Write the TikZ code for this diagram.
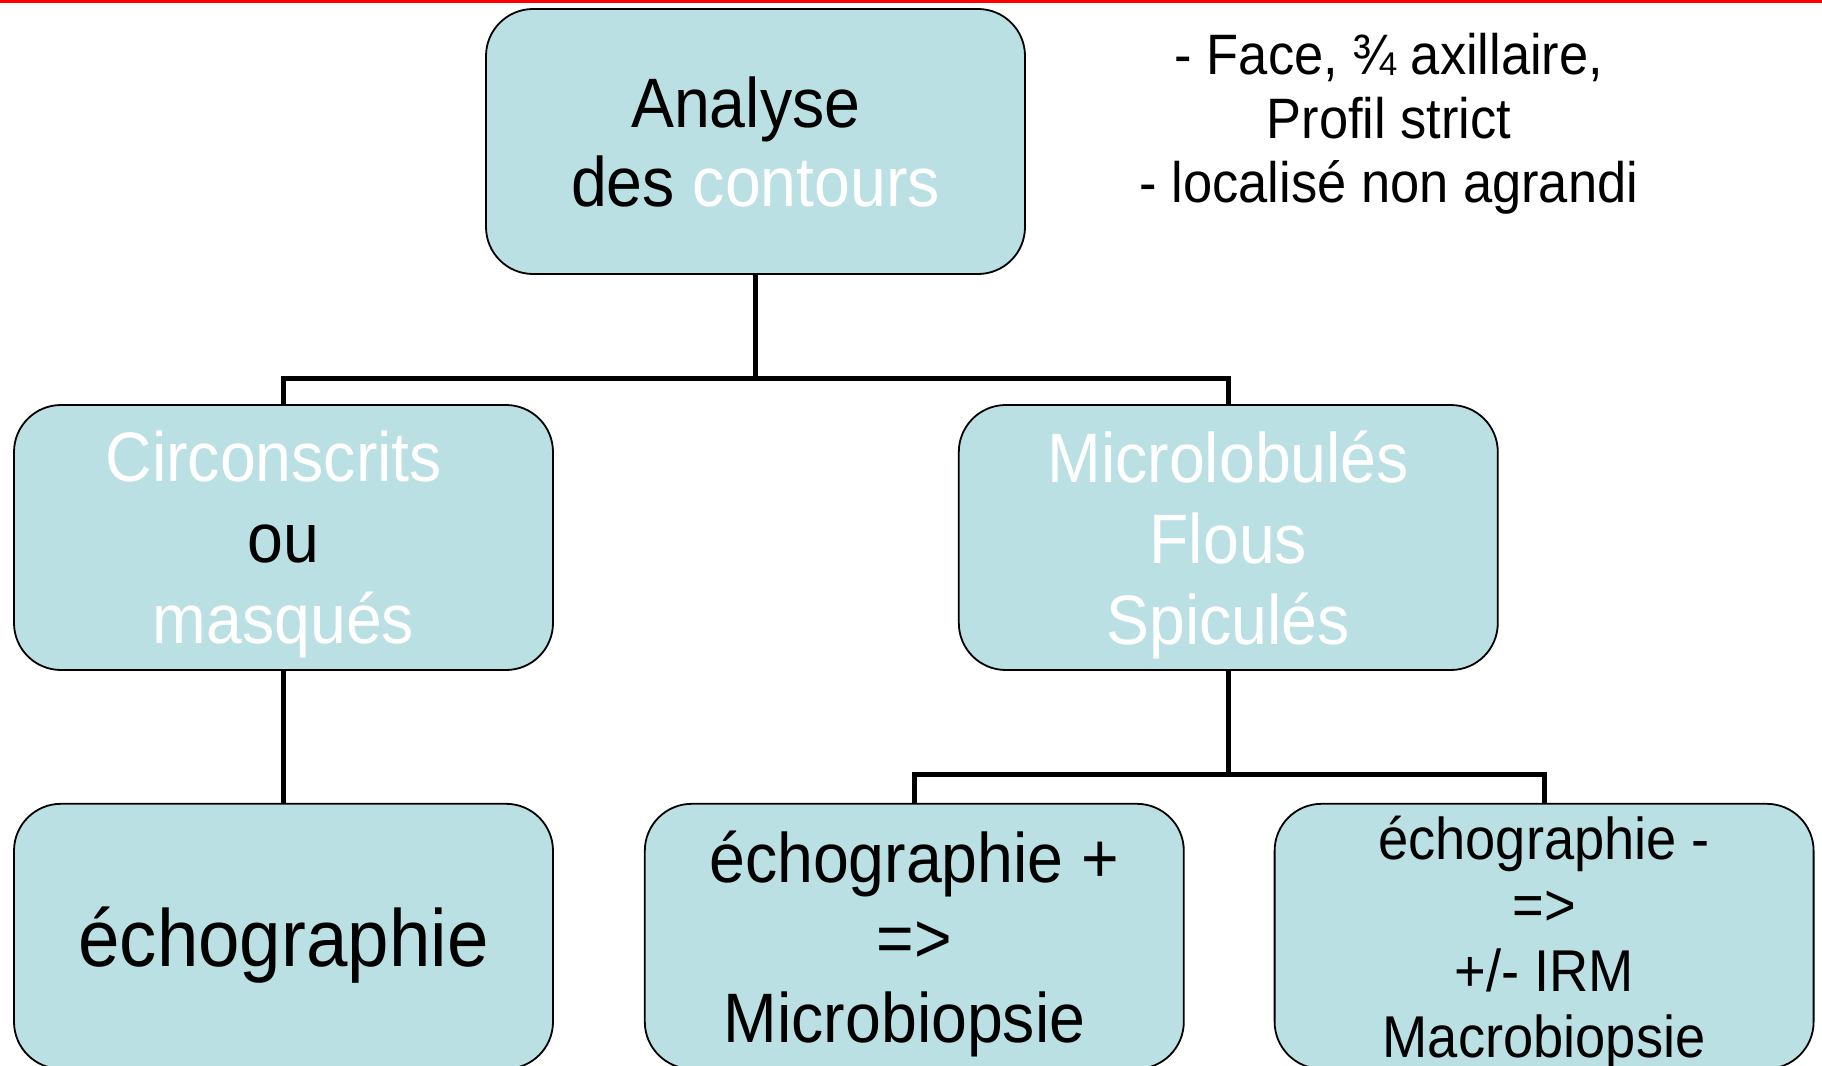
\documentclass[tikz,border=0pt]{standalone}
\usepackage{fontspec}
\setmainfont{Liberation Sans}[FakeStretch=0.92]
\usetikzlibrary{calc, positioning}
\definecolor{boxfill}{HTML}{BBE0E3}
\tikzset{
  every picture/.style={x=1pt, y=-1pt},
  box/.style={draw=black, fill=boxfill, line width=1.8pt, rounded corners=47pt,
              minimum width=539pt, minimum height=265pt, align=center, inner sep=0pt,
              font=\fontsize{70}{81}\selectfont, text depth=-11pt},
  link/.style={line width=5pt},
  note/.style={align=center, inner sep=0pt, font=\fontsize{57}{64}\selectfont},
}
\newcommand\wt[1]{\textcolor{white}{#1}}
\newcommand\tsp{\kern.278em}
\begin{document}
\begin{tikzpicture}
  \useasboundingbox (0,0) rectangle (1822,1065);
  \clip (0,0) rectangle (1822,1065);
  \draw[red, line width=3pt] (0,1.5) -- (1822,1.5);
  % boxes
  \node[box, font=\fontsize{70}{79}\selectfont, text depth=-4pt] (ana) at (755.5,141.5)
    {Analyse\tsp\\des \wt{contours}};
  \node[box] (circ) at (283.5,537.5) {\wt{Circonscrits\tsp}\\ou\\\wt{masqués}};
  \node[box, right=404pt of circ] (micro) {\wt{Microlobulés}\\\wt{Flous}\\\wt{Spiculés}};
  \node[box, below=132pt of circ, font=\fontsize{81}{90}\selectfont, text depth=-6pt] (echo)
    {échographie};
  \node[box, right=90pt of echo, font=\fontsize{70}{80}\selectfont, text depth=-3pt] (plus)
    {échographie +\\=>\\Microbiopsie\tsp};
  \node[box, right=89pt of plus, font=\fontsize{59}{66}\selectfont, text depth=0pt] (moins)
    {échographie -\\=>\\+/- IRM\\Macrobiopsie};
  \node[note] (vues) at (1389,124) {- Face, ¾ axillaire,\\Profil strict\\- localisé non agrandi};
  % connectors
  \coordinate (j1) at ($(ana.south)+(0,104)$);
  \coordinate (j2) at ($(micro.south)+(0,104)$);
  \draw[link] (ana.south) -- (j1) -| (circ.north);
  \draw[link] (j1) -| (micro.north);
  \draw[link] (circ.south) -- (echo.north);
  \draw[link] (micro.south) -- (j2) -| (plus.north);
  \draw[link] (j2) -| (moins.north);
\end{tikzpicture}
\end{document}
